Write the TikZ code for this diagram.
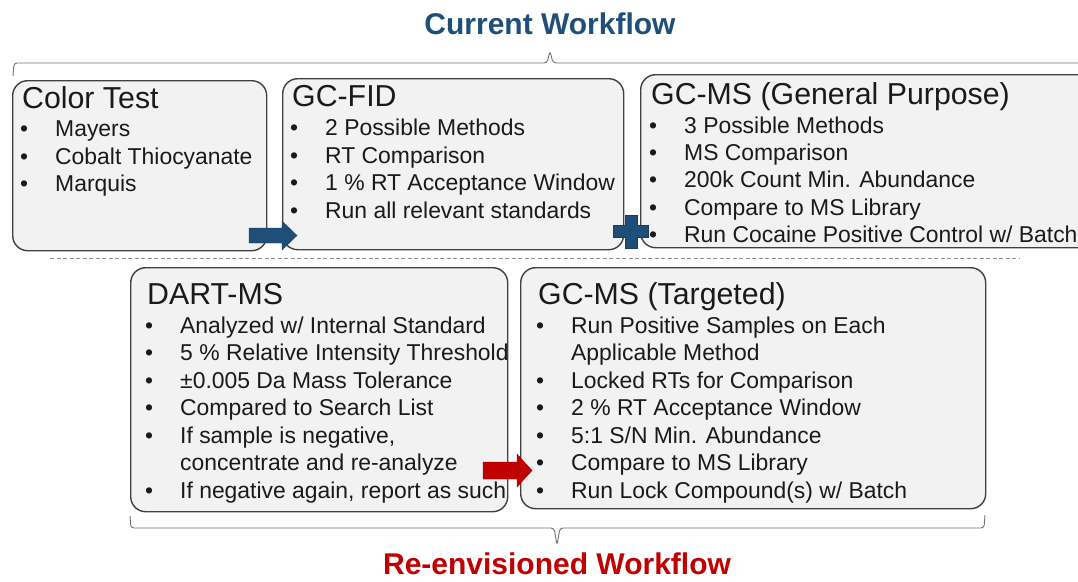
\documentclass[tikz,border=0pt]{standalone}
\usepackage{fontspec}
\setmainfont{Liberation Sans}
\definecolor{ink}{HTML}{1A1A1A}
\definecolor{boxfill}{HTML}{F2F2F2}
\definecolor{boxline}{HTML}{404040}
\definecolor{flowblue}{HTML}{1F4E79}
\definecolor{flowred}{HTML}{C00000}
\definecolor{bracegray}{HTML}{707070}
\tikzset{
  stagebox/.style={draw=boxline, fill=boxfill, line width=1.4pt, rounded corners=15pt,
    inner sep=0pt, anchor=north west},
  headline/.style={anchor=base west, inner sep=0pt, text=ink, font=\fontsize{30.3}{34}\selectfont},
  itemline/.style={anchor=base west, inner sep=0pt, text=ink, font=\fontsize{22.9}{27}\selectfont},
  bulletmark/.style={itemline},
  flowtitle/.style={anchor=base, inner sep=0pt, font=\bfseries\fontsize{30}{34}\selectfont},
  bracket/.style={draw=bracegray, line width=0.9pt, rounded corners=3pt},
  blockarrow/.style={line width=0.4pt}
}
% one bulleted line: name, x of bullet, baseline y, text
\newcommand\bulletitem[4]{%
  \node[bulletmark] (#1b) at (#2,#3) {\textbullet};
  \node[itemline] (#1) at (#2+35,#3) {#4};}
% continuation of a bulleted line: name, x of bullet, baseline y, text
\newcommand\contitem[4]{%
  \node[itemline] (#1) at (#2+35,#3) {#4};}
\begin{document}
\begin{tikzpicture}[x=1pt,y=-1pt]
\useasboundingbox (0,0) rectangle (1078,581);
\clip (0,0) rectangle (1078,581);

% titles
\node[flowtitle, text=flowblue] (curtitle) at (550,34) {Current Workflow};
\node[flowtitle, text=flowred] (newtitle) at (557,574) {Re-envisioned Workflow};

% brace over the current workflow
\draw[bracket] (13,76) -- (14,63) -- (547,63) -- (550,51) -- (553,63) -- (1095,63);
% brace under the re-envisioned workflow
\draw[bracket] (130,516) -- (131,528) -- (554,528) -- (557,545) -- (560,528) -- (984,528) -- (985,515);

% separator between the two workflows
\draw[bracegray!80, line width=0.8pt, dash pattern=on 4pt off 2.5pt] (50,258) -- (1020,258);

% current workflow stages
\node[stagebox, minimum width=254pt, minimum height=170pt] (colortest) at (12,80) {};
\node[stagebox, minimum width=341pt, minimum height=171pt] (gcfid) at (282,78) {};
\node[stagebox, minimum width=470pt, minimum height=173pt] (gcmsgen) at (640,74) {};

\node[headline] (cth) at (22,108) {Color Test};
\bulletitem{ct1}{20}{136}{Mayers}
\bulletitem{ct2}{20}{164}{Cobalt Thiocyanate}
\bulletitem{ct3}{20}{191}{Marquis}

\node[headline] (fidh) at (292,106) {GC-FID};
\bulletitem{fid1}{290}{135}{2 Possible Methods}
\bulletitem{fid2}{290}{163}{RT Comparison}
\bulletitem{fid3}{290}{190}{1 \% RT Acceptance Window}
\bulletitem{fid4}{290}{218}{Run all relevant standards}

\node[headline] (genh) at (651,104) {GC-MS (General Purpose)};
\bulletitem{gen1}{649}{133}{3 Possible Methods}
\bulletitem{gen2}{649}{160}{MS Comparison}
\bulletitem{gen3}{649}{187}{200k Count Min. Abundance}
\bulletitem{gen4}{649}{215}{Compare to MS Library}
\bulletitem{gen5}{649}{242}{Run Cocaine Positive Control w/ Batch}

% re-envisioned workflow stages
\node[stagebox, minimum width=377pt, minimum height=244pt] (dartms) at (130,267) {};
\node[stagebox, minimum width=465pt, minimum height=241pt] (gcmstgt) at (520,267) {};

\node[headline] (darth) at (147,304) {DART-MS};
\bulletitem{dart1}{145}{333}{Analyzed w/ Internal Standard}
\bulletitem{dart2}{145}{360.5}{5 \% Relative Intensity Threshold}
\bulletitem{dart3}{145}{388}{±0.005 Da Mass Tolerance}
\bulletitem{dart4}{145}{415.5}{Compared to Search List}
\bulletitem{dart5}{145}{443}{If sample is negative,}
\contitem{dart5c}{145}{470.5}{concentrate and re-analyze}
\bulletitem{dart6}{145}{498}{If negative again, report as such}

\node[headline] (tgth) at (538,304) {GC-MS (Targeted)};
\bulletitem{tgt1}{536}{333}{Run Positive Samples on Each}
\contitem{tgt1c}{536}{360.5}{Applicable Method}
\bulletitem{tgt2}{536}{388}{Locked RTs for Comparison}
\bulletitem{tgt3}{536}{415.5}{2 \% RT Acceptance Window}
\bulletitem{tgt4}{536}{443}{5:1 S/N Min. Abundance}
\bulletitem{tgt5}{536}{470.5}{Compare to MS Library}
\bulletitem{tgt6}{536}{498}{Run Lock Compound(s) w/ Batch}

% block arrows and the plus sign joining the stages
\filldraw[blockarrow, draw=flowblue!80!black, fill=flowblue]
  (249,228) -- (282,228) -- (282,221) -- (297,235.5) -- (282,250) -- (282,243) -- (249,243) -- cycle;
\filldraw[blockarrow, draw=flowblue!80!black, fill=flowblue]
  (625,215) -- (637,215) -- (637,225) -- (648,225) -- (648,237) -- (637,237) -- (637,248)
  -- (625,248) -- (625,237) -- (613,237) -- (613,225) -- (625,225) -- cycle;
\filldraw[blockarrow, draw=flowred!80!black, fill=flowred]
  (483,462) -- (517,462) -- (517,454) -- (532,470.5) -- (517,487) -- (517,479) -- (483,479) -- cycle;
\end{tikzpicture}
\end{document}
